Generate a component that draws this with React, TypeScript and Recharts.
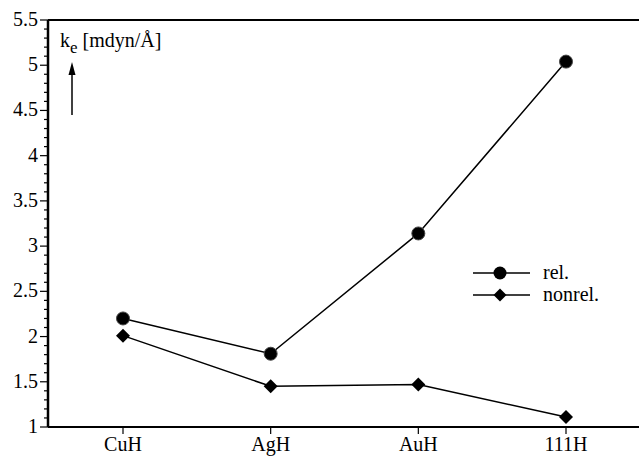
import React from 'react';
import { LineChart, Line, XAxis, YAxis, ReferenceLine, Customized } from 'recharts';

const categories = ['CuH', 'AgH', 'AuH', '111H'];
const relValues = [2.2, 1.81, 3.14, 5.04];
const nonrelValues = [2.01, 1.45, 1.47, 1.11];
const yTicks = [1, 1.1, 1.2, 1.3, 1.4, 1.5, 1.6, 1.7, 1.8, 1.9, 2, 2.1, 2.2, 2.3, 2.4, 2.5, 2.6, 2.7, 2.8, 2.9, 3, 3.1, 3.2, 3.3, 3.4, 3.5, 3.6, 3.7, 3.8, 3.9, 4, 4.1, 4.2, 4.3, 4.4, 4.5, 4.6, 4.7, 4.8, 4.9, 5, 5.1, 5.2, 5.3, 5.4, 5.5];

const data = categories.map((c, i) => ({ name: c, rel: relValues[i], nonrel: nonrelValues[i] }));

const FS = 20;

const YTick = (props: any) => {
  const { y, payload } = props;
  const v = payload.value;
  const major = Math.abs(v * 2 - Math.round(v * 2)) < 1e-6;
  const ax = 48;
  return (
    <g>
      <line x1={ax - (major ? 8 : 4)} x2={ax} y1={y} y2={y} stroke="#000" strokeWidth={1.2} />
      {major && (
        <text x={ax - 10} y={y} dy={6} textAnchor="end" fontSize={FS} fill="#000">
          {String(Math.round(v * 10) / 10)}
        </text>
      )}
    </g>
  );
};

const XTick = (props: any) => {
  const { x, payload } = props;
  return (
    <g>
      <line x1={x} x2={x} y1={427} y2={434} stroke="#000" strokeWidth={1.2} />
      <text x={x} y={451} textAnchor="middle" fontSize={FS} fill="#000">
        {payload.value}
      </text>
    </g>
  );
};

const Diamond = (props: any) => {
  const { cx, cy } = props;
  if (cx == null || cy == null) return null;
  const s = 7;
  return <polygon points={`${cx},${cy - s} ${cx + s},${cy} ${cx},${cy + s} ${cx - s},${cy}`} fill="#000" />;
};

const Dot = (props: any) => {
  const { cx, cy } = props;
  if (cx == null || cy == null) return null;
  return <circle cx={cx} cy={cy} r={6.5} fill="#000" stroke="#444" strokeWidth={1} />;
};

const Overlay = () => (
  <g>
    <text x={60} y={47} fill="#000" fontSize={FS}>
      k
      <tspan dy={6} fontSize={17}>e</tspan>
      <tspan dy={-6}> [mdyn/Å]</tspan>
    </text>
    <line x1={72} x2={72} y1={115} y2={72} stroke="#000" strokeWidth={1.5} />
    <polygon points="72,62 68.5,75 75.5,75" fill="#000" />
    <line x1={473} x2={530} y1={273} y2={273} stroke="#000" strokeWidth={1.5} />
    <circle cx={500} cy={273} r={6.5} fill="#000" />
    <text x={543} y={279} fill="#000" fontSize={FS}>rel.</text>
    <line x1={473} x2={530} y1={295} y2={295} stroke="#000" strokeWidth={1.5} />
    <polygon points="500,288.5 506.5,295 500,301.5 493.5,295" fill="#000" />
    <text x={543} y={301} fill="#000" fontSize={FS}>nonrel.</text>
  </g>
);

export default function App() {
  return (
    <div style={{ position: 'absolute', left: 0, top: 0, width: 639, height: 459, background: '#fff' }}>
      <LineChart width={639} height={459} data={data} margin={{ top: 20, right: 0, bottom: 0, left: 0 }}>
        <XAxis
          dataKey="name"
          height={32}
          padding={{ left: 75, right: 73 }}
          axisLine={{ stroke: '#000', strokeWidth: 2 }}
          tickLine={false}
          tick={<XTick />}
          interval={0}
        />
        <YAxis
          width={48}
          domain={[1, 5.5]}
          ticks={yTicks}
          interval={0}
          axisLine={{ stroke: '#000', strokeWidth: 2.5 }}
          tickLine={false}
          tick={<YTick />}
          allowDataOverflow
        />
        <ReferenceLine y={5.5} stroke="#000" strokeWidth={2} />
        <Line dataKey="rel" stroke="#000" strokeWidth={1.5} dot={<Dot />} isAnimationActive={false} />
        <Line dataKey="nonrel" stroke="#000" strokeWidth={1.5} dot={<Diamond />} isAnimationActive={false} />
        <Customized component={Overlay} />
      </LineChart>
    </div>
  );
}
